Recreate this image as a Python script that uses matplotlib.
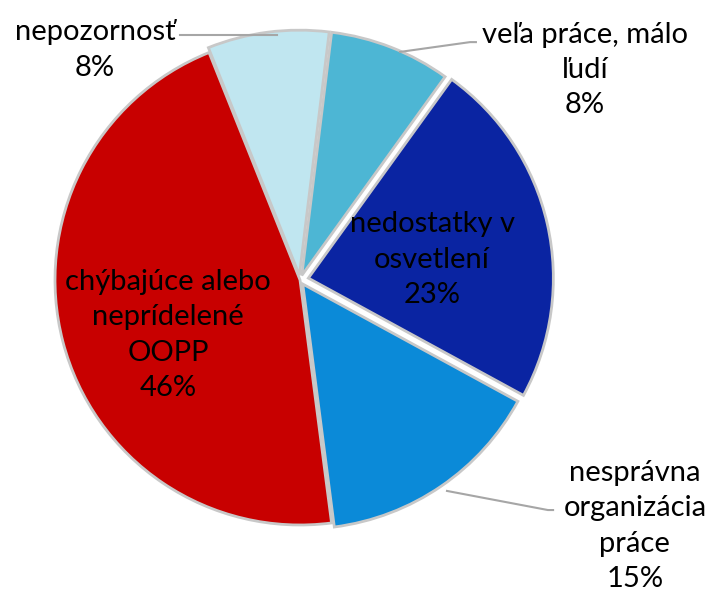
import matplotlib.pyplot as plt

labels = ["veľa práce, málo\nľudí", "nedostatky v\nosvetlení", "nesprávna\norganizácia\npráce",
          "chýbajúce alebo\nneprídelené\nOOPP", "nepozornosť"]
shares = [8, 23, 15, 46, 8]
colors = ["#4db6d4", "#0a24a2", "#0b8ad8", "#c80000", "#c0e6f0"]
explode = [0.02, 0.035, 0.02, 0.0, 0.02]

# label block centres in data units (pie radius = 1)
label_pos = [(1.163, 0.857), (0.539, 0.082), (1.367, -1.004), (-0.539, -0.224), (-0.837, 0.939)]
leaders = [[(0.408, 0.931), (0.694, 0.971), (0.718, 0.971)],
           None,
           [(0.60, -0.861), (1.012, -0.939), (1.033, -0.939)],
           None,
           [(-0.49, 1.0), (-0.094, 1.0)]]

plt.rcParams['font.family'] = ['Lato', 'DejaVu Sans']

fig = plt.figure(figsize=(7.09, 5.93), dpi=100)
ax = fig.add_axes([0, 0, 1, 1])
ax.pie(shares, colors=colors, startangle=83, counterclock=False, explode=explode,
       radius=1.0, wedgeprops=dict(edgecolor="#c8c8c8", linewidth=2))

for lab, val, (x, y), ld in zip(labels, shares, label_pos, leaders):
    ax.text(x, y, f"{lab}\n{val}%", ha="center", va="center", fontsize=21,
            color="black", linespacing=1.45)
    if ld:
        xs, ys = zip(*ld)
        ax.plot(xs, ys, color="#a6a6a6", lw=1.5)

ax.set_xlim(-1.2245, 1.6694)
ax.set_ylim(-1.2776, 1.1429)
ax.set_aspect("equal")
ax.axis("off")
fig.savefig("out.png", dpi=100)
